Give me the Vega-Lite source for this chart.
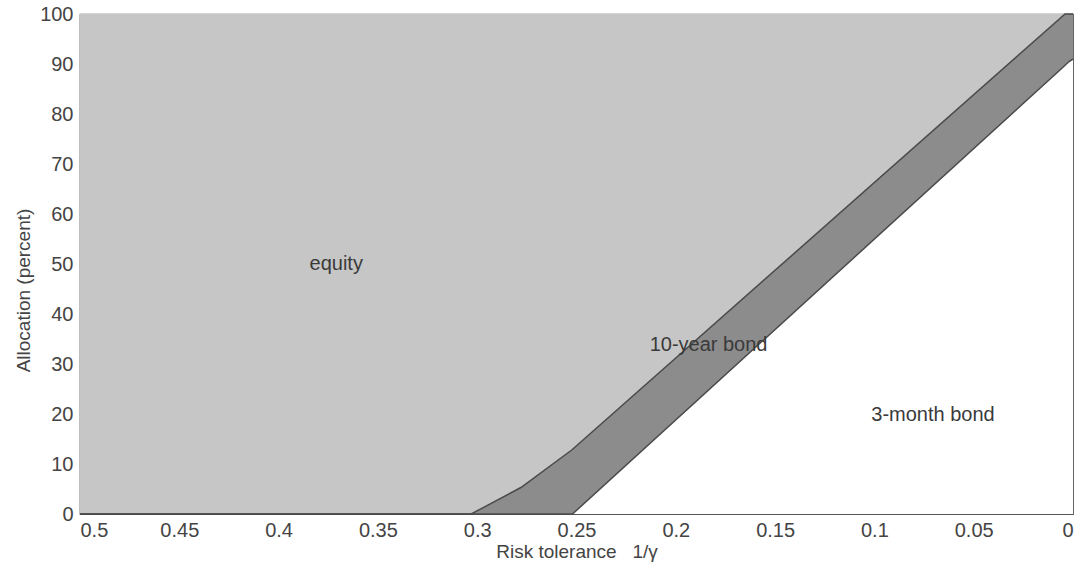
{
  "$schema": "https://vega.github.io/schema/vega-lite/v6.json",
  "width": 993,
  "height": 500,
  "autosize": "none",
  "padding": {"left": 80, "top": 14, "right": 13, "bottom": 60},
  "background": "white",
  "config": {
    "view": {"stroke": "#555555", "strokeWidth": 1.2},
    "font": "Liberation Sans"
  },
  "datasets": {
    "upper": [
      {"x": 0.5, "y": 0},
      {"x": 0.303, "y": 0},
      {"x": 0.278, "y": 5.3},
      {"x": 0.2524, "y": 12.8},
      {"x": 0.004, "y": 100},
      {"x": 0, "y": 100}
    ],
    "lower": [
      {"x": 0.5, "y": 0},
      {"x": 0.252, "y": 0},
      {"x": 0.006, "y": 89},
      {"x": 0.002, "y": 90.5},
      {"x": 0, "y": 91}
    ],
    "labels": [
      {"label": "equity", "x": 0.371, "y": 50},
      {"label": "10-year bond", "x": 0.1835, "y": 33.8},
      {"label": "3-month bond", "x": 0.0705, "y": 19.8}
    ]
  },
  "encoding": {
    "x": {
      "field": "x", "type": "quantitative",
      "scale": {"domain": [0, 0.5], "reverse": true, "nice": false},
      "axis": {
        "title": "Risk tolerance\u00a0\u00a0\u00a01/γ",
        "values": [0, 0.05, 0.1, 0.15, 0.2, 0.25, 0.3, 0.35, 0.4, 0.45, 0.5],
        "format": ".2~f",
        "grid": false, "ticks": false,
        "domainColor": "#555555", "domainWidth": 1.2,
        "labelFontSize": 20, "labelColor": "#444444", "labelPadding": 6,
        "labelFont": "Liberation Sans",
        "titleFontSize": 19, "titleFontWeight": "normal", "titleColor": "#444444",
        "titlePadding": 2, "titleFont": "Liberation Sans"
      }
    },
    "y": {
      "field": "y", "type": "quantitative",
      "scale": {"domain": [0, 100], "nice": false},
      "axis": {
        "title": "Allocation (percent)",
        "values": [0, 10, 20, 30, 40, 50, 60, 70, 80, 90, 100],
        "grid": false, "ticks": false,
        "domainColor": "#555555", "domainWidth": 1.2,
        "labelFontSize": 20, "labelColor": "#444444", "labelPadding": 7,
        "labelFont": "Liberation Sans",
        "titleFontSize": 19, "titleFontWeight": "normal", "titleColor": "#444444",
        "titlePadding": 6, "titleFont": "Liberation Sans", "titleY": 276
      }
    }
  },
  "layer": [
    {
      "data": {"name": "upper"},
      "mark": {"type": "area", "color": "#c6c6c6", "opacity": 1},
      "encoding": {"y2": {"datum": 100}}
    },
    {
      "data": {"name": "upper"},
      "mark": {"type": "area", "color": "#8c8c8c", "opacity": 1},
      "encoding": {"y2": {"datum": 0}}
    },
    {
      "data": {"name": "lower"},
      "mark": {"type": "area", "color": "#ffffff", "opacity": 1},
      "encoding": {"y2": {"datum": 0}}
    },
    {
      "data": {"name": "upper"},
      "mark": {"type": "line", "color": "#4a4a4a", "strokeWidth": 1.5},
      "encoding": {}
    },
    {
      "data": {"name": "lower"},
      "mark": {"type": "line", "color": "#4a4a4a", "strokeWidth": 1.5},
      "encoding": {}
    },
    {
      "data": {"name": "labels"},
      "mark": {"type": "text", "fontSize": 20, "color": "#3a3a3a", "font": "Liberation Sans", "align": "center", "baseline": "middle"},
      "encoding": {"text": {"field": "label", "type": "nominal"}}
    }
  ]
}
